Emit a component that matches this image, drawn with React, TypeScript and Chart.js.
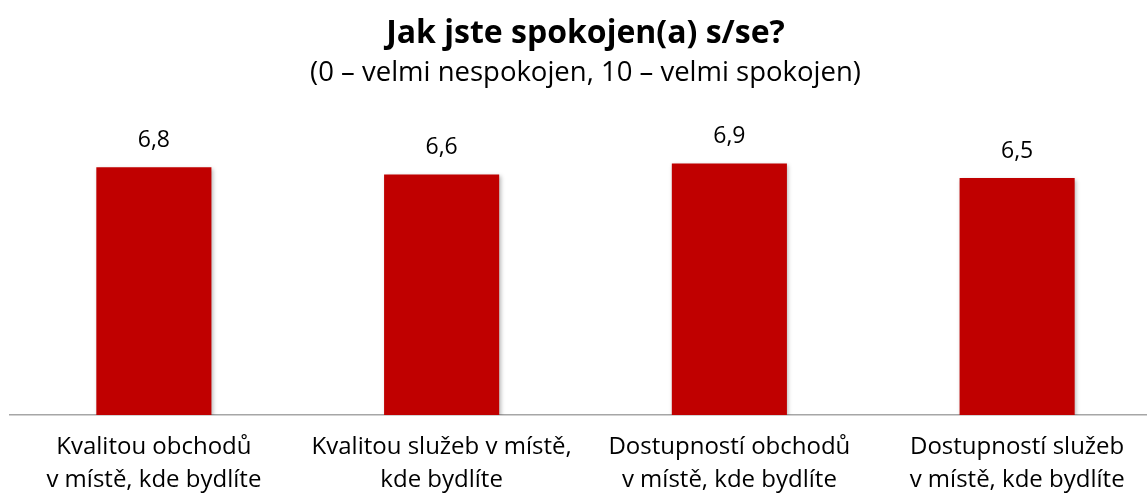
import React, { useEffect, useRef } from "react";
import { Chart, registerables } from "chart.js";

Chart.register(...registerables);

const TITLE = "Jak jste spokojen(a) s/se?";
const SUBTITLE = "(0 – velmi nespokojen, 10 – velmi spokojen)";
const categories: string[][] = [
  ["Kvalitou obchodů", "v místě, kde bydlíte"],
  ["Kvalitou služeb v místě,", "kde bydlíte"],
  ["Dostupností obchodů", "v místě, kde bydlíte"],
  ["Dostupností služeb", "v místě, kde bydlíte"],
];
const values: number[] = [6.8, 6.6, 6.9, 6.5];
const valueLabels: string[] = ["6,8", "6,6", "6,9", "6,5"];

const FONT = "'Open Sans', 'Liberation Sans', sans-serif";

const shadowPlugin = {
  id: "barShadow",
  beforeDatasetsDraw(chart: any) {
    const ctx = chart.ctx;
    ctx.save();
    ctx.shadowColor = "rgba(0,0,0,0.28)";
    ctx.shadowBlur = 4;
    ctx.shadowOffsetX = 1.5;
    ctx.shadowOffsetY = 1.5;
  },
  afterDatasetsDraw(chart: any) {
    chart.ctx.restore();
  },
};

const valueLabelPlugin = {
  id: "valueLabels",
  afterDatasetsDraw(chart: any) {
    const ctx = chart.ctx;
    const meta = chart.getDatasetMeta(0);
    ctx.save();
    ctx.font = `23px ${FONT}`;
    ctx.fillStyle = "#000000";
    ctx.textAlign = "center";
    ctx.textBaseline = "middle";
    meta.data.forEach((bar: any, i: number) => {
      ctx.fillText(valueLabels[i], bar.x, bar.y - 27);
    });
    ctx.restore();
  },
};

export default function App() {
  const ref = useRef<HTMLCanvasElement | null>(null);
  useEffect(() => {
    if (!ref.current) return;
    const chart = new Chart(ref.current, {
      type: "bar",
      data: {
        labels: categories,
        datasets: [
          {
            data: values,
            backgroundColor: "#C00000",
            borderWidth: 0,
            categoryPercentage: 1,
            barPercentage: 0.4,
          },
        ],
      },
      options: {
        responsive: false,
        animation: false,
        layout: { padding: { left: 10, right: 9, top: 0, bottom: 0 } },
        plugins: {
          legend: { display: false },
          tooltip: { enabled: false },
          title: {
            display: true,
            text: TITLE,
            color: "#000000",
            font: { family: FONT, size: 32, weight: "bold", lineHeight: 1.2 },
            padding: { top: 15, bottom: 0 },
          },
          subtitle: {
            display: true,
            text: SUBTITLE,
            color: "#000000",
            font: { family: FONT, size: 27.5, weight: "normal", lineHeight: 1.2 },
            padding: { top: 3, bottom: 34 },
          },
        },
        scales: {
          x: {
            grid: { display: false, drawTicks: false },
            border: { display: true, color: "#A6A6A6", width: 1.5 },
            ticks: {
              color: "#000000",
              font: { family: FONT, size: 24, lineHeight: 1.4 },
              padding: 15,
              maxRotation: 0,
              autoSkip: false,
            },
            afterFit(scale: any) {
              scale.height = 80;
            },
          },
          y: {
            display: false,
            min: 0,
            max: 8,
          },
        },
      },
      plugins: [shadowPlugin, valueLabelPlugin],
    });
    return () => chart.destroy();
  }, []);
  return (
    <div
      style={{
        position: "fixed",
        left: 0,
        top: 0,
        width: 1147,
        height: 495,
        overflow: "hidden",
        background: "#ffffff",
      }}
    >
      <canvas ref={ref} width={1170} height={495} style={{ display: "block" }} />
    </div>
  );
}
